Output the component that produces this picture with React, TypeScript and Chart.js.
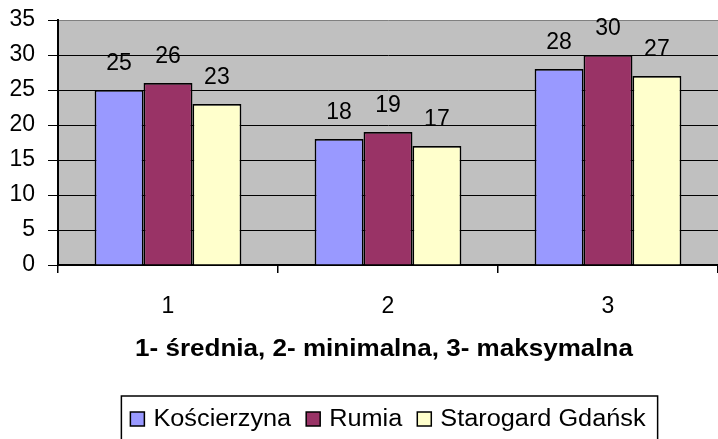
import React, { useEffect, useRef } from "react";
import { Chart, registerables } from "chart.js";

Chart.register(...registerables);

const categories = ["1", "2", "3"];
const seriesNames = ["Kościerzyna", "Rumia", "Starogard Gdańsk"];
const koscierzyna = [25, 18, 28];
const rumia = [26, 19, 30];
const starogard = [23, 17, 27];
const yTickValues = [0, 5, 10, 15, 20, 25, 30, 35];
const axisTitle = "1- średnia, 2- minimalna, 3- maksymalna";
const seriesColors = ["#9999FF", "#993366", "#FFFFCC"];

const FONT = "'Liberation Sans', Arial, sans-serif";

function drawStretched(ctx: CanvasRenderingContext2D, text: string, x: number, y: number, sx: number) {
  ctx.save();
  ctx.translate(x, y);
  ctx.scale(sx, 1);
  ctx.textAlign = "left";
  ctx.fillText(text, 0, 0);
  ctx.restore();
}

const backgroundPlugin = {
  id: "plotBg",
  beforeDraw(chart: any) {
    const { ctx, chartArea, width, height } = chart;
    ctx.save();
    ctx.fillStyle = "#FFFFFF";
    ctx.fillRect(0, 0, width, height);
    ctx.fillStyle = "#C0C0C0";
    ctx.fillRect(chartArea.left, chartArea.top, chartArea.right - chartArea.left, chartArea.bottom - chartArea.top);
    ctx.restore();
  },
};

const valueLabelPlugin = {
  id: "valueLabels",
  afterDatasetsDraw(chart: any) {
    const { ctx } = chart;
    ctx.save();
    ctx.font = `23px ${FONT}`;
    ctx.fillStyle = "#000";
    ctx.textAlign = "center";
    ctx.textBaseline = "middle";
    chart.data.datasets.forEach((ds: any, i: number) => {
      const meta = chart.getDatasetMeta(i);
      meta.data.forEach((el: any, j: number) => {
        ctx.fillText(String(ds.data[j]), el.x, el.y - 26);
      });
    });
    ctx.restore();
  },
};

const titleLegendPlugin = {
  id: "titleLegend",
  afterDraw(chart: any) {
    const { ctx, chartArea } = chart;
    const cx = (chartArea.left + chartArea.right) / 2;
    ctx.save();
    ctx.fillStyle = "#000";
    ctx.textBaseline = "alphabetic";

    // axis title
    ctx.font = `bold 24px ${FONT}`;
    const tsx = 1.085;
    const tw = ctx.measureText(axisTitle).width * tsx;
    drawStretched(ctx, axisTitle, cx - tw / 2 - 4, 356, tsx);

    // legend
    ctx.font = `23px ${FONT}`;
    const lsx = 1.1;
    const box = 14;
    const gap = 9;
    const itemGap = 15;
    const widths = seriesNames.map((n) => ctx.measureText(n).width * lsx);
    const total = widths.reduce((a, w) => a + box + gap + w, 0) + itemGap * (seriesNames.length - 1);
    let x = cx - total / 2;
    const cy = 419;
    const start = x;
    seriesNames.forEach((name, i) => {
      ctx.fillStyle = seriesColors[i];
      ctx.fillRect(x, cy - box / 2, box, box);
      ctx.strokeStyle = "#000";
      ctx.lineWidth = 1.5;
      ctx.strokeRect(x, cy - box / 2, box, box);
      ctx.fillStyle = "#000";
      ctx.textBaseline = "middle";
      drawStretched(ctx, name, x + box + gap, cy + 1, lsx);
      x += box + gap + widths[i] + itemGap;
    });
    const end = x - itemGap;
    ctx.strokeStyle = "#000";
    ctx.lineWidth = 1.5;
    ctx.strokeRect(start - 9, 396, end - start + 21, 60);
    ctx.restore();
  },
};

export default function App() {
  const ref = useRef<HTMLCanvasElement | null>(null);

  useEffect(() => {
    if (!ref.current) return;
    const values = [koscierzyna, rumia, starogard];
    const chart = new Chart(ref.current, {
      type: "bar",
      data: {
        labels: categories,
        datasets: seriesNames.map((name, i) => ({
          label: name,
          data: values[i],
          backgroundColor: seriesColors[i],
          borderColor: "#000",
          borderWidth: 1.7,
          barPercentage: 1,
          categoryPercentage: 0.667,
        })),
      },
      options: {
        responsive: false,
        animation: false,
        layout: { padding: { top: 20, left: 0, right: 0, bottom: 0 } },
        plugins: {
          legend: { display: false },
          tooltip: { enabled: false },
          title: { display: false },
        },
        scales: {
          x: {
            offset: true,
            afterFit(scale: any) {
              scale.height = 174;
              scale.paddingLeft = 0;
              scale.paddingRight = 0;
            },
            grid: {
              display: true,
              offset: true,
              drawOnChartArea: false,
              drawTicks: true,
              tickLength: 8,
              color: "#000",
              lineWidth: 1.5,
            },
            border: { display: true, color: "#000", width: 2 },
            ticks: {
              color: "#000",
              font: { family: FONT, size: 23 },
              padding: 20,
              maxRotation: 0,
            },
          },
          y: {
            min: 0,
            max: 35,
            afterFit(scale: any) {
              scale.width = 58;
              scale.paddingTop = 0;
              scale.paddingBottom = 0;
            },
            afterBuildTicks(scale: any) {
              scale.ticks = yTickValues.map((v) => ({ value: v }));
            },
            grid: {
              color: (c: any) => (c.tick && c.tick.value === 35 ? "#808080" : "#000"),
              tickColor: "#000",
              lineWidth: 1,
              tickLength: 10,
              drawTicks: true,
            },
            border: { display: true, color: "#000", width: 2 },
            ticks: {
              color: "#000",
              font: { family: FONT, size: 23 },
              padding: 13,
            },
          },
        },
      },
      plugins: [backgroundPlugin, valueLabelPlugin, titleLegendPlugin],
    });
    return () => chart.destroy();
  }, []);

  return (
    <div style={{ position: "fixed", left: 0, top: 0, width: 718, height: 439, background: "#fff" }}>
      <canvas ref={ref} width={718} height={439} style={{ display: "block", width: 718, height: 439 }} />
    </div>
  );
}
